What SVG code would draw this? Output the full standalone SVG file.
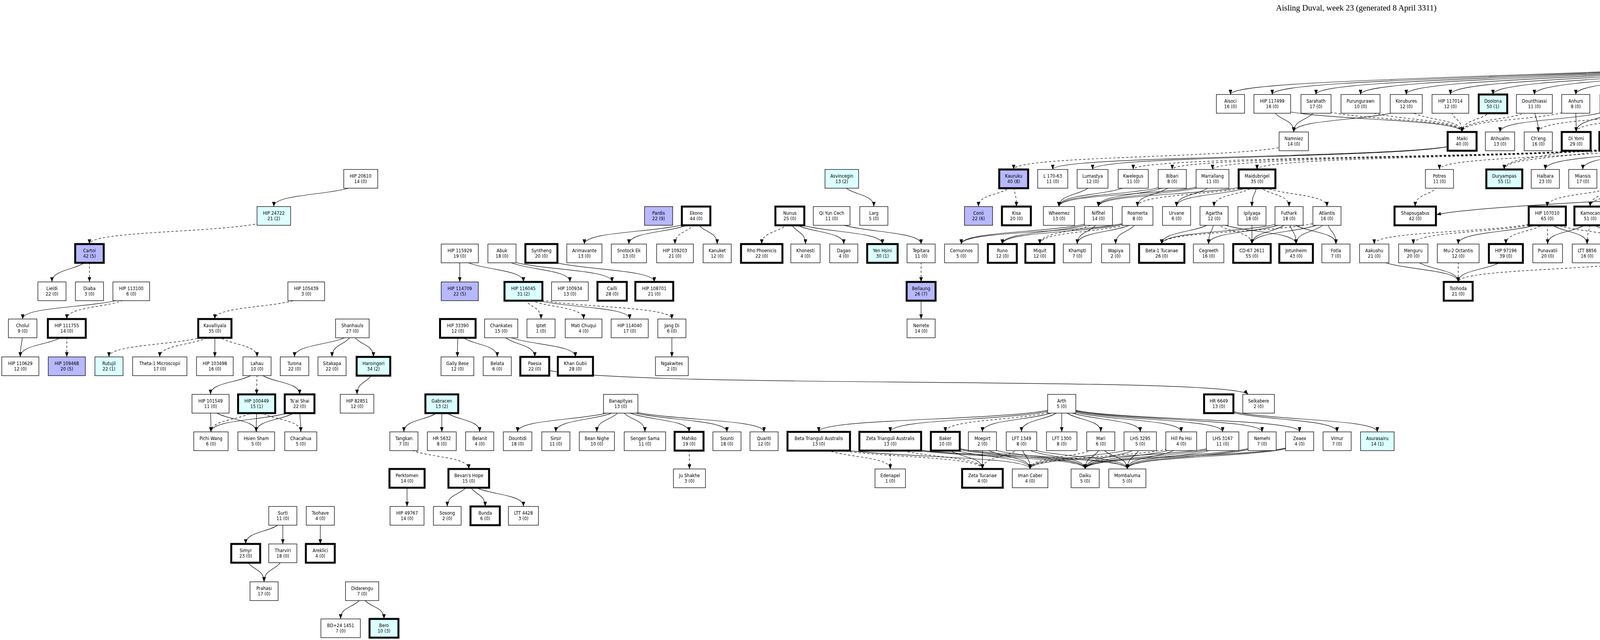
<svg xmlns="http://www.w3.org/2000/svg" width="6945" height="1639" viewBox="0 0 6945 1639">
<defs>
<marker id="a" markerUnits="userSpaceOnUse" markerWidth="13" markerHeight="10" refX="12" refY="4.5" orient="auto"><path d="M0,0L12,4.5L0,9z" fill="#000"/></marker>
<style>
.nd rect{fill:#fff;stroke:#000;stroke-width:1.3}
.nd.t rect{stroke-width:5}
.nd.c rect{fill:#dcffff}
.nd.b rect{fill:#b8b8ff}
.nd.p rect{fill:#ff99ee}
text{font-family:"DejaVu Sans Condensed","DejaVu Sans",sans-serif;font-size:12px;text-anchor:middle;fill:#000}
#edges path{fill:none;stroke:#000;stroke-width:1.2;marker-end:url(#a)}
#edges .d path{stroke-dasharray:6,5}
.key text{text-anchor:start}
</style>
</defs>
<rect width="6945" height="1639" fill="#fff"/>
<text x="3472" y="27" style="font-family:'Liberation Serif',serif;font-size:21px">Aisling Duval, week 23 (generated 8 April 3311)</text>
<g id="edges">
<g class="s">
<path d="M923,458C923,504 701,489 701,529"/>
<path d="M229,649C229,695 133,682 133,722"/>
<path d="M336,746C336,792 58,777 58,817"/>
<path d="M58,841C58,887 52,874 52,914"/>
<path d="M171,841C171,887 52,874 52,914"/>
<path d="M550,841C550,887 550,874 550,914"/>
<path d="M902,841C902,887 754,874 754,914"/>
<path d="M902,841C902,887 850,874 850,914"/>
<path d="M902,841C902,887 956,874 956,914"/>
<path d="M1172,841C1172,887 1171,874 1171,914"/>
<path d="M1172,841C1172,887 1273,874 1273,914"/>
<path d="M1283,841C1283,887 1369,874 1369,914"/>
<path d="M1283,841C1283,887 1473,874 1473,914"/>
<path d="M1720,841C1720,887 1720,874 1720,914"/>
<path d="M658,938C658,984 539,970 539,1010"/>
<path d="M658,938C658,984 767,970 767,1010"/>
<path d="M956,938C956,984 914,970 914,1010"/>
<path d="M539,1034C539,1080 540,1066 540,1106"/>
<path d="M539,1034C539,1080 656,1066 656,1106"/>
<path d="M657,1034C657,1080 656,1066 656,1106"/>
<path d="M767,1034C767,1080 540,1066 540,1106"/>
<path d="M767,1034C767,1080 656,1066 656,1106"/>
<path d="M767,1034C767,1080 770,1066 770,1106"/>
<path d="M1131,1034C1131,1080 1034,1066 1034,1106"/>
<path d="M1131,1034C1131,1080 1131,1066 1131,1106"/>
<path d="M1131,1034C1131,1080 1228,1066 1228,1106"/>
<path d="M1042,1225C1042,1271 1042,1257 1042,1297"/>
<path d="M1200,1225C1200,1271 1145,1257 1145,1297"/>
<path d="M1200,1225C1200,1271 1242,1257 1242,1297"/>
<path d="M1200,1225C1200,1271 1340,1257 1340,1297"/>
<path d="M724,1321C724,1367 629,1353 629,1393"/>
<path d="M724,1321C724,1367 724,1353 724,1393"/>
<path d="M820,1321C820,1367 820,1353 820,1393"/>
<path d="M629,1417C629,1463 676,1450 676,1490"/>
<path d="M724,1417C724,1463 676,1450 676,1490"/>
<path d="M927,1514C927,1560 872,1545 872,1585"/>
<path d="M927,1514C927,1560 983,1545 983,1585"/>
<path d="M1369,938C1450,1000 3150,960 3195,1010"/>
<path d="M1177,649C1177,695 1177,682 1177,722"/>
<path d="M1177,649C1177,695 1340,682 1340,722"/>
<path d="M1285,649C1285,695 1459,682 1459,722"/>
<path d="M1285,649C1285,695 1567,682 1567,722"/>
<path d="M1386,649C1386,695 1675,682 1675,722"/>
<path d="M1340,746C1340,792 1612,777 1612,817"/>
<path d="M1782,553C1782,599 1496,585 1496,625"/>
<path d="M1782,553C1782,599 1610,585 1610,625"/>
<path d="M1782,553C1782,599 1836,585 1836,625"/>
<path d="M2022,553C2022,599 2062,585 2062,625"/>
<path d="M2022,553C2022,599 2160,585 2160,625"/>
<path d="M2022,553C2022,599 2259,585 2259,625"/>
<path d="M2129,553C2129,599 2358,585 2358,625"/>
<path d="M2155,458C2155,504 2237,489 2237,529"/>
<path d="M1589,1034C1589,1080 1325,1066 1325,1106"/>
<path d="M1589,1034C1589,1080 1423,1066 1423,1106"/>
<path d="M1589,1034C1589,1080 1528,1066 1528,1106"/>
<path d="M1589,1034C1589,1080 1651,1066 1651,1106"/>
<path d="M1589,1034C1589,1080 1764,1066 1764,1106"/>
<path d="M1589,1034C1589,1080 1861,1066 1861,1106"/>
<path d="M1589,1034C1589,1080 1956,1066 1956,1106"/>
<path d="M2096,1130C2096,1176 2637,1161 2637,1201"/>
<path d="M2279,1130C2279,1176 2778,1161 2778,1201"/>
<path d="M2279,1130C2279,1176 2886,1161 2886,1201"/>
<path d="M2718,1034C2718,1080 2096,1066 2096,1106"/>
<path d="M2718,1034C2718,1080 2279,1066 2279,1106"/>
<path d="M2718,1034C2718,1080 2515,1066 2515,1106"/>
<path d="M2718,1034C2718,1080 2615,1066 2615,1106"/>
<path d="M2718,1034C2718,1080 2718,1066 2718,1106"/>
<path d="M2718,1034C2718,1080 2818,1066 2818,1106"/>
<path d="M2718,1034C2718,1080 2919,1066 2919,1106"/>
<path d="M2718,1034C2718,1080 3024,1066 3024,1106"/>
<path d="M2718,1034C2718,1080 3130,1066 3130,1106"/>
<path d="M2718,1034C2718,1080 3231,1066 3231,1106"/>
<path d="M2718,1034C2718,1080 3327,1066 3327,1106"/>
<path d="M3120,1034C3120,1080 3423,1066 3423,1106"/>
<path d="M3120,1034C3120,1080 3526,1066 3526,1106"/>
<path d="M2420,1130C2420,1176 2515,1161 2515,1201"/>
<path d="M2420,1130C2420,1176 2637,1161 2637,1201"/>
<path d="M2420,1130C2420,1176 2778,1161 2778,1201"/>
<path d="M2420,1130C2420,1176 2886,1161 2886,1201"/>
<path d="M2515,1130C2515,1176 2515,1161 2515,1201"/>
<path d="M2515,1130C2515,1176 2637,1161 2637,1201"/>
<path d="M2515,1130C2515,1176 2778,1161 2778,1201"/>
<path d="M2615,1130C2615,1176 2637,1161 2637,1201"/>
<path d="M2615,1130C2615,1176 2778,1161 2778,1201"/>
<path d="M2615,1130C2615,1176 2886,1161 2886,1201"/>
<path d="M2818,1130C2818,1176 2778,1161 2778,1201"/>
<path d="M2818,1130C2818,1176 2886,1161 2886,1201"/>
<path d="M2919,1130C2919,1176 2637,1161 2637,1201"/>
<path d="M2919,1130C2919,1176 2778,1161 2778,1201"/>
<path d="M2919,1130C2919,1176 2886,1161 2886,1201"/>
<path d="M3024,1130C3024,1176 2778,1161 2778,1201"/>
<path d="M3024,1130C3024,1176 2886,1161 2886,1201"/>
<path d="M3130,1130C3130,1176 2637,1161 2637,1201"/>
<path d="M3130,1130C3130,1176 2778,1161 2778,1201"/>
<path d="M3130,1130C3130,1176 2886,1161 2886,1201"/>
<path d="M3231,1130C3231,1176 2778,1161 2778,1201"/>
<path d="M3231,1130C3231,1176 2886,1161 2886,1201"/>
<path d="M3327,1130C3327,1176 2778,1161 2778,1201"/>
<path d="M3327,1130C3327,1176 2886,1161 2886,1201"/>
<path d="M2358,746C2358,792 2358,777 2358,817"/>
<path d="M3257,266C3257,312 3312,298 3312,338"/>
<path d="M3369,266C3369,312 3312,298 3312,338"/>
<path d="M3600,266C3600,312 3312,298 3312,338"/>
<path d="M3743,362C3743,408 2695,394 2695,434"/>
<path d="M3743,362C3743,408 2797,394 2797,434"/>
<path d="M2797,458C2797,504 2711,489 2711,529"/>
<path d="M2901,458C2901,504 2711,489 2711,529"/>
<path d="M3001,458C3001,504 2711,489 2711,529"/>
<path d="M3001,458C3001,504 2812,489 2812,529"/>
<path d="M3001,458C3001,504 2912,489 2912,529"/>
<path d="M3104,458C3104,504 2711,489 2711,529"/>
<path d="M3104,458C3104,504 2812,489 2812,529"/>
<path d="M3104,458C3104,504 3012,489 3012,529"/>
<path d="M3218,458C3218,504 2812,489 2812,529"/>
<path d="M3218,458C3218,504 3012,489 3012,529"/>
<path d="M3218,458C3218,504 3205,489 3205,529"/>
<path d="M2812,553C2812,599 2461,585 2461,625"/>
<path d="M2812,553C2812,599 2566,585 2566,625"/>
<path d="M2812,553C2812,599 2758,585 2758,625"/>
<path d="M2912,553C2912,599 2461,585 2461,625"/>
<path d="M2912,553C2912,599 2566,585 2566,625"/>
<path d="M2912,553C2912,599 2758,585 2758,625"/>
<path d="M2912,553C2912,599 2856,585 2856,625"/>
<path d="M3108,553C3108,599 2974,585 2974,625"/>
<path d="M3108,553C3108,599 3094,585 3094,625"/>
<path d="M3108,553C3108,599 3318,585 3318,625"/>
<path d="M3205,553C3205,599 3205,585 3205,625"/>
<path d="M3300,553C3300,599 2974,585 2974,625"/>
<path d="M3300,553C3300,599 3094,585 3094,625"/>
<path d="M3300,553C3300,599 3205,585 3205,625"/>
<path d="M3300,553C3300,599 3318,585 3318,625"/>
<path d="M3300,553C3300,599 3420,585 3420,625"/>
<path d="M3397,553C3397,599 3205,585 3205,625"/>
<path d="M3397,553C3397,599 3318,585 3318,625"/>
<path d="M3397,553C3397,599 3420,585 3420,625"/>
<path d="M3257,266C3257,312 3743,298 3743,338"/>
<path d="M3928,266C3928,312 3938,298 3938,338"/>
<path d="M4034,266C4034,312 4035,298 4035,338"/>
<path d="M4135,266C4135,312 3840,298 3840,338"/>
<path d="M4135,266C4135,312 4035,298 4035,338"/>
<path d="M4237,362C4237,408 3956,394 3956,434"/>
<path d="M4237,362C4237,408 4052,394 4052,434"/>
<path d="M4237,362C4237,408 4372,394 4372,434"/>
<path d="M4878,458C4600,500 3800,520 3677,550"/>
<path d="M4148,458C4148,504 4171,489 4171,529"/>
<path d="M4260,458C4260,504 4171,489 4171,529"/>
<path d="M4260,458C4260,504 4268,489 4268,529"/>
<path d="M3961,553C3961,599 3733,585 3733,625"/>
<path d="M3961,553C3961,599 4063,585 4063,625"/>
<path d="M4071,553C4071,599 3962,585 3962,625"/>
<path d="M4071,553C4071,599 4162,585 4162,625"/>
<path d="M4071,553C4071,599 4356,585 4356,625"/>
<path d="M4366,553C4366,599 4665,585 4665,625"/>
<path d="M4462,553C4462,599 4665,585 4665,625"/>
<path d="M3518,649C3518,695 3733,682 3733,722"/>
<path d="M3618,649C3618,695 3733,682 3733,722"/>
<path d="M3855,649C3855,695 3733,682 3733,722"/>
<path d="M4840,150C3995,200 3150,200 3150,242"/>
<path d="M4840,150C4049,200 3257,200 3257,242"/>
<path d="M4840,150C4105,200 3369,200 3369,242"/>
<path d="M4840,150C4162,200 3483,200 3483,242"/>
<path d="M4840,150C4220,200 3600,200 3600,242"/>
<path d="M4840,150C4277,200 3713,200 3713,242"/>
<path d="M4840,150C4331,200 3822,200 3822,242"/>
<path d="M4840,150C4384,200 3928,200 3928,242"/>
<path d="M4840,150C4437,200 4034,200 4034,242"/>
<path d="M4840,150C4488,200 4135,200 4135,242"/>
<path d="M4840,150C4554,200 4267,200 4267,242"/>
<path d="M4840,150C4619,200 4397,200 4397,242"/>
<path d="M4840,150C4666,200 4492,200 4492,242"/>
<path d="M4840,150C4715,200 4590,200 4590,242"/>
<path d="M4840,150C4767,200 4693,200 4693,242"/>
<path d="M4840,150C4816,200 4792,200 4792,242"/>
<path d="M4840,150C4864,200 4888,200 4888,242"/>
<path d="M4840,150C4914,200 4988,200 4988,242"/>
<path d="M4840,150C4965,200 5090,200 5090,242"/>
<path d="M4840,150C5017,200 5193,200 5193,242"/>
<path d="M4840,150C5068,200 5296,200 5296,242"/>
<path d="M4840,150C5122,200 5404,200 5404,242"/>
<path d="M4840,150C5191,200 5541,200 5541,242"/>
<path d="M4840,150C5255,200 5670,200 5670,242"/>
<path d="M4840,150C5305,200 5770,200 5770,242"/>
<path d="M4840,150C5358,200 5875,200 5875,242"/>
<path d="M4840,150C5409,200 5977,200 5977,242"/>
<path d="M4840,150C5459,200 6078,200 6078,242"/>
<path d="M4840,150C5509,200 6178,200 6178,242"/>
<path d="M4840,150C5557,200 6273,200 6273,242"/>
<path d="M4840,150C5605,200 6370,200 6370,242"/>
<path d="M4840,150C5653,200 6466,200 6466,242"/>
<path d="M4840,150C5703,200 6566,200 6566,242"/>
<path d="M4840,150C5763,200 6685,200 6685,242"/>
<path d="M4840,150C5822,200 6803,200 6803,242"/>
<path d="M4840,150C5872,200 6903,200 6903,242"/>
<path d="M4792,266C4792,312 5519,298 5519,338"/>
<path d="M4888,266C4888,312 5423,298 5423,338"/>
<path d="M5090,266C5090,312 5423,298 5423,338"/>
<path d="M5193,266C5193,312 5519,298 5519,338"/>
<path d="M5296,266C5296,312 5327,298 5327,338"/>
<path d="M5296,266C5296,312 5519,298 5519,338"/>
<path d="M5670,266C5670,312 5727,298 5727,338"/>
<path d="M5770,266C5770,312 5727,298 5727,338"/>
<path d="M5770,266C5770,312 5423,298 5423,338"/>
<path d="M5875,266C5875,312 5837,298 5837,338"/>
<path d="M6178,266C6178,312 6046,298 6046,338"/>
<path d="M6273,266C6273,312 6147,298 6147,338"/>
<path d="M5220,362C5220,408 5307,394 5307,434"/>
<path d="M5220,362C5220,408 5420,394 5420,434"/>
<path d="M5220,362C5220,408 5525,394 5525,434"/>
<path d="M5220,362C5220,408 5623,394 5623,434"/>
<path d="M5519,362C5519,408 5623,394 5623,434"/>
<path d="M5727,362C5727,408 5815,394 5815,434"/>
<path d="M5837,362C5837,408 5917,394 5917,434"/>
<path d="M5837,362C5837,408 6223,394 6223,434"/>
<path d="M5837,362C5837,408 6327,394 6327,434"/>
<path d="M5943,362C5943,408 6428,394 6428,434"/>
<path d="M5943,362C5943,408 6530,394 6530,434"/>
<path d="M6046,362C6046,408 6116,394 6116,434"/>
<path d="M4878,458C4878,504 4982,489 4982,529"/>
<path d="M4991,458C4991,504 4982,489 4982,529"/>
<path d="M5103,458C5103,504 5079,489 5079,529"/>
<path d="M5103,458C5103,504 5609,489 5609,529"/>
<path d="M5199,458C5199,504 5079,489 5079,529"/>
<path d="M5199,458C5199,504 5301,489 5301,529"/>
<path d="M5199,458C5199,504 4877,489 4877,529"/>
<path d="M5420,458C5420,504 5609,489 5609,529"/>
<path d="M5623,458C5623,504 5609,489 5609,529"/>
<path d="M5815,458C5815,504 5824,489 5824,529"/>
<path d="M6017,458C6017,504 6441,489 6441,529"/>
<path d="M6116,458C6116,504 6537,489 6537,529"/>
<path d="M4677,553C4677,599 4665,585 4665,625"/>
<path d="M4774,553C4774,599 4773,585 4773,625"/>
<path d="M4774,553C4774,599 4869,585 4869,625"/>
<path d="M4774,553C4774,599 4980,585 4980,625"/>
<path d="M4877,553C4877,599 4980,585 4980,625"/>
<path d="M4877,553C4877,599 5091,585 5091,625"/>
<path d="M5079,553C5079,599 4980,585 4980,625"/>
<path d="M5079,553C5079,599 5091,585 5091,625"/>
<path d="M5191,553C5191,599 5091,585 5091,625"/>
<path d="M5301,553C5301,599 5355,585 5355,625"/>
<path d="M5301,553C5301,599 5188,585 5188,625"/>
<path d="M5510,553C5510,599 5355,585 5355,625"/>
<path d="M5510,553C5510,599 5511,585 5511,625"/>
<path d="M5824,553C5824,599 5511,585 5511,625"/>
<path d="M5932,553C5932,599 5511,585 5511,625"/>
<path d="M5511,649C5511,695 5407,682 5407,722"/>
<path d="M5917,649C5917,695 5814,682 5814,722"/>
<path d="M5917,649C5917,695 5911,682 5911,722"/>
<path d="M6013,649C6013,695 5911,682 5911,722"/>
<path d="M6013,649C6013,695 6016,682 6016,722"/>
<path d="M6013,649C6013,695 6229,682 6229,722"/>
<path d="M6013,649C6013,695 6332,682 6332,722"/>
<path d="M6013,649C6013,695 6436,682 6436,722"/>
<path d="M6235,649C6235,695 6016,682 6016,722"/>
<path d="M6235,649C6235,695 6126,682 6126,722"/>
<path d="M6235,649C6235,695 6229,682 6229,722"/>
<path d="M6235,649C6235,695 6332,682 6332,722"/>
<path d="M6235,649C6235,695 6436,682 6436,722"/>
<path d="M6343,649C6343,695 5911,682 5911,722"/>
<path d="M6343,649C6343,695 6229,682 6229,722"/>
<path d="M6343,649C6343,695 6332,682 6332,722"/>
<path d="M6343,649C6343,695 6436,682 6436,722"/>
<path d="M6126,746C6126,792 6126,777 6126,817"/>
<path d="M6436,746C6436,792 6436,777 6436,817"/>
<path d="M6126,841C6126,887 6126,874 6126,914"/>
<path d="M6436,841C6436,887 6334,874 6334,914"/>
<path d="M6436,841C6436,887 6436,874 6436,914"/>
<path d="M6436,1034C6436,1080 6436,1066 6436,1106"/>
<path d="M6532,1034C6532,1080 6436,1066 6436,1106"/>
<path d="M6532,1034C6532,1080 6537,1066 6537,1106"/>
<path d="M6436,1130C6436,1176 6436,1161 6436,1201"/>
</g>
<g class="d">
<path d="M701,553C701,599 229,585 229,625"/>
<path d="M229,649C229,695 229,682 229,722"/>
<path d="M336,746C336,792 171,777 171,817"/>
<path d="M784,746C784,792 550,777 550,817"/>
<path d="M171,841C171,887 171,874 171,914"/>
<path d="M550,841C550,887 279,874 279,914"/>
<path d="M550,841C550,887 409,874 409,914"/>
<path d="M550,841C550,887 658,874 658,914"/>
<path d="M658,938C658,984 657,970 657,1010"/>
<path d="M657,1034C657,1080 540,1066 540,1106"/>
<path d="M657,1034C657,1080 770,1066 770,1106"/>
<path d="M1034,1130C1034,1176 1200,1161 1200,1201"/>
<path d="M1340,746C1340,792 1385,777 1385,817"/>
<path d="M1340,746C1340,792 1494,777 1494,817"/>
<path d="M1340,746C1340,792 1720,777 1720,817"/>
<path d="M1782,553C1782,599 1728,585 1728,625"/>
<path d="M2022,553C2022,599 1950,585 1950,625"/>
<path d="M1764,1130C1764,1176 1765,1161 1765,1201"/>
<path d="M2096,1130C2096,1176 2279,1161 2279,1201"/>
<path d="M2096,1130C2096,1176 2515,1161 2515,1201"/>
<path d="M2279,1130C2279,1176 2279,1161 2279,1201"/>
<path d="M2279,1130C2279,1176 2515,1161 2515,1201"/>
<path d="M2615,1130C2615,1176 2515,1161 2515,1201"/>
<path d="M2818,1130C2818,1176 2637,1161 2637,1201"/>
<path d="M3024,1130C3024,1176 2637,1161 2637,1201"/>
<path d="M2718,1034C2718,1080 2420,1066 2420,1106"/>
<path d="M2358,649C2358,695 2358,682 2358,722"/>
<path d="M2595,458C2595,504 2505,489 2505,529"/>
<path d="M2595,458C2595,504 2602,489 2602,529"/>
<path d="M3312,362C3312,408 2595,394 2595,434"/>
<path d="M4237,362C4237,408 2901,394 2901,434"/>
<path d="M4237,362C4237,408 3001,394 3001,434"/>
<path d="M4237,362C4237,408 3104,394 3104,434"/>
<path d="M4237,362C4237,408 3218,394 3218,434"/>
<path d="M3218,458C3218,504 2912,489 2912,529"/>
<path d="M3218,458C3218,504 3108,489 3108,529"/>
<path d="M3218,458C3218,504 3300,489 3300,529"/>
<path d="M3218,458C3218,504 3397,489 3397,529"/>
<path d="M2812,553C2812,599 2662,585 2662,625"/>
<path d="M2912,553C2912,599 2662,585 2662,625"/>
<path d="M3108,553C3108,599 3205,585 3205,625"/>
<path d="M3397,553C3397,599 2974,585 2974,625"/>
<path d="M3483,266C3483,312 3743,298 3743,338"/>
<path d="M3600,266C3600,312 3743,298 3743,338"/>
<path d="M3713,266C3713,312 3743,298 3743,338"/>
<path d="M3822,266C3822,312 3743,298 3743,338"/>
<path d="M3928,266C3928,312 3743,298 3743,338"/>
<path d="M4034,266C4034,312 3743,298 3743,338"/>
<path d="M4135,266C4135,312 4133,298 4133,338"/>
<path d="M4397,266C4397,312 4133,298 4133,338"/>
<path d="M4397,266C4397,312 4035,298 4035,338"/>
<path d="M4267,266C4267,312 3938,298 3938,338"/>
<path d="M4492,266C4492,312 4237,298 4237,338"/>
<path d="M4590,266C4590,312 4237,298 4237,338"/>
<path d="M3369,266C3369,312 3743,298 3743,338"/>
<path d="M5220,362C4900,420 4400,400 4282,362"/>
<path d="M4237,362C4237,408 3685,394 3685,434"/>
<path d="M4237,362C4237,408 4148,394 4148,434"/>
<path d="M4237,362C4237,408 4260,394 4260,434"/>
<path d="M4133,362C4133,408 3851,394 3851,434"/>
<path d="M4035,362C4035,408 3851,394 3851,434"/>
<path d="M3685,458C3685,504 3623,489 3623,529"/>
<path d="M4148,458C4148,504 3961,489 3961,529"/>
<path d="M4148,458C4148,504 4071,489 4071,529"/>
<path d="M4148,458C4148,504 4462,489 4462,529"/>
<path d="M4260,458C4260,504 4071,489 4071,529"/>
<path d="M4372,458C4372,504 4366,489 4366,529"/>
<path d="M3961,553C3961,599 3518,585 3518,625"/>
<path d="M3961,553C3961,599 3618,585 3618,625"/>
<path d="M3961,553C3961,599 3855,585 3855,625"/>
<path d="M3961,553C3961,599 3962,585 3962,625"/>
<path d="M3961,553C3961,599 4162,585 4162,625"/>
<path d="M4071,553C4071,599 4063,585 4063,625"/>
<path d="M4071,553C4071,599 4258,585 4258,625"/>
<path d="M4366,553C4366,599 4356,585 4356,625"/>
<path d="M4366,553C4366,599 4457,585 4457,625"/>
<path d="M4366,553C4366,599 4556,585 4556,625"/>
<path d="M4462,553C4462,599 4457,585 4457,625"/>
<path d="M3733,649C3733,695 3733,682 3733,722"/>
<path d="M4258,649C4258,695 3733,682 3733,722"/>
<path d="M4693,266C4693,312 5220,298 5220,338"/>
<path d="M4988,266C4988,312 5220,298 5220,338"/>
<path d="M5404,266C5404,312 5519,298 5519,338"/>
<path d="M5541,266C5541,312 5423,298 5423,338"/>
<path d="M5541,266C5541,312 5619,298 5619,338"/>
<path d="M5670,266C5670,312 5619,298 5619,338"/>
<path d="M5770,266C5770,312 5837,298 5837,338"/>
<path d="M5875,266C5875,312 5943,298 5943,338"/>
<path d="M5875,266C5875,312 6046,298 6046,338"/>
<path d="M5977,266C5977,312 6046,298 6046,338"/>
<path d="M5977,266C5977,312 6147,298 6147,338"/>
<path d="M6078,266C6078,312 6046,298 6046,338"/>
<path d="M6078,266C6078,312 6147,298 6147,338"/>
<path d="M6178,266C6178,312 6273,298 6273,338"/>
<path d="M6273,266C6273,312 6273,298 6273,338"/>
<path d="M6370,266C6370,312 6273,298 6273,338"/>
<path d="M6466,266C6466,312 6273,298 6273,338"/>
<path d="M5220,362C5220,408 4878,394 4878,434"/>
<path d="M5220,362C5220,408 4991,394 4991,434"/>
<path d="M5220,362C5220,408 5103,394 5103,434"/>
<path d="M5220,362C5220,408 5199,394 5199,434"/>
<path d="M5423,362C5423,408 5525,394 5525,434"/>
<path d="M5519,362C5519,408 5719,394 5719,434"/>
<path d="M5619,362C5619,408 5525,394 5525,434"/>
<path d="M5727,362C5727,408 5719,394 5719,434"/>
<path d="M6046,362C6046,408 6017,394 6017,434"/>
<path d="M5103,458C5103,504 4677,489 4677,529"/>
<path d="M5103,458C5103,504 4774,489 4774,529"/>
<path d="M5199,458C5199,504 5191,489 5191,529"/>
<path d="M5199,458C5199,504 4982,489 4982,529"/>
<path d="M5307,458C5307,504 5407,489 5407,529"/>
<path d="M5525,458C5525,504 5510,489 5510,529"/>
<path d="M5525,458C5525,504 5609,489 5609,529"/>
<path d="M5623,458C5623,504 5715,489 5715,529"/>
<path d="M5719,458C5719,504 5715,489 5715,529"/>
<path d="M5719,458C5719,504 5824,489 5824,529"/>
<path d="M5815,458C5815,504 5932,489 5932,529"/>
<path d="M5815,458C5815,504 6640,489 6640,529"/>
<path d="M5917,458C5917,504 5932,489 5932,529"/>
<path d="M5917,458C5917,504 6036,489 6036,529"/>
<path d="M5917,458C5917,504 6342,489 6342,529"/>
<path d="M6017,458C6017,504 6131,489 6131,529"/>
<path d="M6017,458C6017,504 6235,489 6235,529"/>
<path d="M6116,458C6116,504 6235,489 6235,529"/>
<path d="M4982,553C4982,599 5091,585 5091,625"/>
<path d="M4982,553C4982,599 5355,585 5355,625"/>
<path d="M5079,553C5079,599 5355,585 5355,625"/>
<path d="M5191,553C5191,599 5188,585 5188,625"/>
<path d="M5191,553C5191,599 5511,585 5511,625"/>
<path d="M5407,553C5407,599 5355,585 5355,625"/>
<path d="M5609,553C5609,599 5511,585 5511,625"/>
<path d="M5609,553C5609,599 5355,585 5355,625"/>
<path d="M6235,553C6235,599 5917,585 5917,625"/>
<path d="M6235,553C6235,599 6013,585 6013,625"/>
<path d="M6235,553C6235,599 6118,585 6118,625"/>
<path d="M6235,553C6235,599 6235,585 6235,625"/>
<path d="M6235,553C6235,599 6343,585 6343,625"/>
<path d="M6640,553C6640,599 6013,585 6013,625"/>
<path d="M5355,649C5355,695 5407,682 5407,722"/>
<path d="M5511,649C5511,695 5665,682 5665,722"/>
<path d="M5511,649C5511,695 5814,682 5814,722"/>
<path d="M5917,649C5917,695 6016,682 6016,722"/>
<path d="M5917,649C5917,695 5665,682 5665,722"/>
<path d="M6013,649C6013,695 6126,682 6126,722"/>
<path d="M5665,746C5665,792 5665,777 5665,817"/>
<path d="M5665,841C5665,887 5665,874 5665,914"/>
<path d="M6436,841C6436,887 6539,874 6539,914"/>
<path d="M6334,938C6334,984 6334,970 6334,1010"/>
<path d="M6436,938C6436,984 6436,970 6436,1010"/>
<path d="M6539,938C6539,984 6436,970 6436,1010"/>
<path d="M6539,938C6539,984 6532,970 6532,1010"/>
<path d="M6539,938C6539,984 6629,970 6629,1010"/>
<path d="M6539,938C6539,984 6724,970 6724,1010"/>
</g>
</g>
<g id="hq">
<polygon points="4840,29 4863.5,92.6 4931.3,95.3 4878,137.4 4896.4,202.7 4840,165 4783.6,202.7 4802,137.4 4748.7,95.3 4816.5,92.6" fill="#fff" stroke="#000" stroke-width="5" stroke-linejoin="miter"/>
<text x="4840" y="110">Cubeo<tspan x="4840" dy="14">43 (0)</tspan></text>
</g>
<g id="key" class="key">
<rect x="4948" y="50" width="521" height="130" fill="#d3d3d3" stroke="#000" stroke-width="1.3"/>
<text x="5208" y="64" style="text-anchor:middle">KEY</text>
<text x="4959" y="77">Star: HQ</text>
<text x="4959" y="90">Thick edge rectangle: Stronghold</text>
<text x="4959" y="104">Normal edge rectangle: Fortified</text>
<text x="4959" y="117">Below system name: supported exploited count (sole supporter count)</text>
<text x="4959" y="131">Only shortest connected routes back to HQ shown</text>
<text x="4959" y="144">Exclaves shown at approximate distance</text>
<text x="4959" y="157">Dashed lines indicate links requiring current Stronghold status</text>
<text x="4959" y="170">White-&gt;Cyan-&gt;Blue-&gt;Pink-&gt;Red colour indicates sole-supported exploited systems</text>
</g>
<g id="nodes">
<g id="n1" class="nd"><rect x="880" y="434" width="87" height="48"/><text x="923" y="455">HIP 20610<tspan x="923" dy="14">14 (0)</tspan></text></g>
<g id="n2" class="nd c"><rect x="658" y="529" width="86" height="48"/><text x="701" y="550">HIP 24722<tspan x="701" dy="14">21 (2)</tspan></text></g>
<g id="n3" class="nd b t"><rect x="192.5" y="625" width="73" height="48"/><text x="229" y="646">Cartoi<tspan x="229" dy="14">42 (5)</tspan></text></g>
<g id="n4" class="nd"><rect x="97" y="722" width="72" height="48"/><text x="133" y="743">Lieldi<tspan x="133" dy="14">22 (0)</tspan></text></g>
<g id="n5" class="nd"><rect x="193" y="722" width="72" height="48"/><text x="229" y="743">Diaba<tspan x="229" dy="14">3 (0)</tspan></text></g>
<g id="n6" class="nd"><rect x="289" y="722" width="94" height="48"/><text x="336" y="743">HIP 113100<tspan x="336" dy="14">6 (0)</tspan></text></g>
<g id="n7" class="nd"><rect x="737" y="722" width="94" height="48"/><text x="784" y="743">HIP 105439<tspan x="784" dy="14">3 (0)</tspan></text></g>
<g id="n8" class="nd"><rect x="1129.5" y="625" width="95" height="48"/><text x="1177" y="646">HIP 115929<tspan x="1177" dy="14">19 (0)</tspan></text></g>
<g id="n9" class="nd b"><rect x="1129.5" y="722" width="95" height="48"/><text x="1177" y="743">HIP 114709<tspan x="1177" dy="14">22 (5)</tspan></text></g>
<g id="n10" class="nd"><rect x="21.5" y="817" width="73" height="48"/><text x="58" y="838">Cholul<tspan x="58" dy="14">9 (0)</tspan></text></g>
<g id="n11" class="nd t"><rect x="122.5" y="817" width="97" height="48"/><text x="171" y="838">HIP 111755<tspan x="171" dy="14">14 (0)</tspan></text></g>
<g id="n12" class="nd t"><rect x="507.5" y="817" width="85" height="48"/><text x="550" y="838">Kavalliyala<tspan x="550" dy="14">35 (0)</tspan></text></g>
<g id="n13" class="nd"><rect x="859" y="817" width="86" height="48"/><text x="902" y="838">Shanhauls<tspan x="902" dy="14">27 (0)</tspan></text></g>
<g id="n14" class="nd t"><rect x="1126.5" y="817" width="91" height="48"/><text x="1172" y="838">HIP 33390<tspan x="1172" dy="14">12 (0)</tspan></text></g>
<g id="n15" class="nd"><rect x="1240.5" y="817" width="85" height="48"/><text x="1283" y="838">Chankates<tspan x="1283" dy="14">15 (0)</tspan></text></g>
<g id="n16" class="nd"><rect x="1349" y="817" width="72" height="48"/><text x="1385" y="838">Iptet<tspan x="1385" dy="14">1 (0)</tspan></text></g>
<g id="n17" class="nd"><rect x="1447" y="817" width="94" height="48"/><text x="1494" y="838">Mati Chuqui<tspan x="1494" dy="14">4 (0)</tspan></text></g>
<g id="n18" class="nd"><rect x="1564.5" y="817" width="95" height="48"/><text x="1612" y="838">HIP 114040<tspan x="1612" dy="14">17 (0)</tspan></text></g>
<g id="n19" class="nd"><rect x="1684" y="817" width="72" height="48"/><text x="1720" y="838">Jang Di<tspan x="1720" dy="14">6 (0)</tspan></text></g>
<g id="n20" class="nd"><rect x="4.5" y="914" width="95" height="48"/><text x="52" y="935">HIP 110629<tspan x="52" dy="14">12 (0)</tspan></text></g>
<g id="n21" class="nd b"><rect x="123.5" y="914" width="95" height="48"/><text x="171" y="935">HIP 109468<tspan x="171" dy="14">20 (5)</tspan></text></g>
<g id="n22" class="nd c"><rect x="243" y="914" width="72" height="48"/><text x="279" y="935">Rutujil<tspan x="279" dy="14">22 (1)</tspan></text></g>
<g id="n23" class="nd"><rect x="339.5" y="914" width="139" height="48"/><text x="409" y="935">Theta-1 Microscopii<tspan x="409" dy="14">17 (0)</tspan></text></g>
<g id="n24" class="nd"><rect x="503" y="914" width="94" height="48"/><text x="550" y="935">HIP 103498<tspan x="550" dy="14">16 (0)</tspan></text></g>
<g id="n25" class="nd"><rect x="622" y="914" width="72" height="48"/><text x="658" y="935">Lahau<tspan x="658" dy="14">10 (0)</tspan></text></g>
<g id="n26" class="nd"><rect x="717.5" y="914" width="73" height="48"/><text x="754" y="935">Turona<tspan x="754" dy="14">22 (0)</tspan></text></g>
<g id="n27" class="nd"><rect x="814" y="914" width="72" height="48"/><text x="850" y="935">Sitakapa<tspan x="850" dy="14">22 (0)</tspan></text></g>
<g id="n28" class="nd c t"><rect x="913" y="914" width="86" height="48"/><text x="956" y="935">Haroingori<tspan x="956" dy="14">34 (2)</tspan></text></g>
<g id="n29" class="nd"><rect x="1129" y="914" width="84" height="48"/><text x="1171" y="935">Gally Bese<tspan x="1171" dy="14">12 (0)</tspan></text></g>
<g id="n30" class="nd"><rect x="1237" y="914" width="72" height="48"/><text x="1273" y="935">Belata<tspan x="1273" dy="14">6 (0)</tspan></text></g>
<g id="n31" class="nd t"><rect x="1332" y="914" width="74" height="48"/><text x="1369" y="935">Paesia<tspan x="1369" dy="14">22 (0)</tspan></text></g>
<g id="n32" class="nd t"><rect x="1428" y="914" width="90" height="48"/><text x="1473" y="935">Khan Gubii<tspan x="1473" dy="14">28 (0)</tspan></text></g>
<g id="n33" class="nd"><rect x="1678" y="914" width="84" height="48"/><text x="1720" y="935">Ngakwites<tspan x="1720" dy="14">2 (0)</tspan></text></g>
<g id="n34" class="nd"><rect x="491.5" y="1010" width="95" height="48"/><text x="539" y="1031">HIP 101549<tspan x="539" dy="14">11 (0)</tspan></text></g>
<g id="n35" class="nd c t"><rect x="609.5" y="1010" width="95" height="48"/><text x="657" y="1031">HIP 100449<tspan x="657" dy="14">15 (1)</tspan></text></g>
<g id="n36" class="nd t"><rect x="729" y="1010" width="76" height="48"/><text x="767" y="1031">Ts'ai Shai<tspan x="767" dy="14">22 (0)</tspan></text></g>
<g id="n37" class="nd"><rect x="871" y="1010" width="86" height="48"/><text x="914" y="1031">HIP 82851<tspan x="914" dy="14">12 (0)</tspan></text></g>
<g id="n38" class="nd c t"><rect x="1089" y="1010" width="84" height="48"/><text x="1131" y="1031">Gabracen<tspan x="1131" dy="14">13 (2)</tspan></text></g>
<g id="n39" class="nd"><rect x="1545" y="1010" width="88" height="48"/><text x="1589" y="1031">Banapityas<tspan x="1589" dy="14">13 (0)</tspan></text></g>
<g id="n40" class="nd"><rect x="2682" y="1010" width="72" height="48"/><text x="2718" y="1031">Arth<tspan x="2718" dy="14">5 (0)</tspan></text></g>
<g id="n41" class="nd t"><rect x="3082.5" y="1010" width="75" height="48"/><text x="3120" y="1031">HR 6649<tspan x="3120" dy="14">13 (0)</tspan></text></g>
<g id="n42" class="nd"><rect x="3181.5" y="1010" width="81" height="48"/><text x="3222" y="1031">Selkabere<tspan x="3222" dy="14">2 (0)</tspan></text></g>
<g id="n43" class="nd"><rect x="496" y="1106" width="88" height="48"/><text x="540" y="1127">Pichi Wang<tspan x="540" dy="14">6 (0)</tspan></text></g>
<g id="n44" class="nd"><rect x="609" y="1106" width="94" height="48"/><text x="656" y="1127">Hsien Sham<tspan x="656" dy="14">5 (0)</tspan></text></g>
<g id="n45" class="nd"><rect x="729" y="1106" width="82" height="48"/><text x="770" y="1127">Chacahua<tspan x="770" dy="14">5 (0)</tspan></text></g>
<g id="n46" class="nd"><rect x="998" y="1106" width="72" height="48"/><text x="1034" y="1127">Tangkan<tspan x="1034" dy="14">7 (0)</tspan></text></g>
<g id="n47" class="nd"><rect x="1094" y="1106" width="74" height="48"/><text x="1131" y="1127">HR 5632<tspan x="1131" dy="14">8 (0)</tspan></text></g>
<g id="n48" class="nd"><rect x="1192" y="1106" width="72" height="48"/><text x="1228" y="1127">Belanit<tspan x="1228" dy="14">4 (0)</tspan></text></g>
<g id="n49" class="nd"><rect x="1288.5" y="1106" width="73" height="48"/><text x="1325" y="1127">Dountidi<tspan x="1325" dy="14">18 (0)</tspan></text></g>
<g id="n50" class="nd"><rect x="1387" y="1106" width="72" height="48"/><text x="1423" y="1127">Sirsir<tspan x="1423" dy="14">11 (0)</tspan></text></g>
<g id="n51" class="nd"><rect x="1483" y="1106" width="90" height="48"/><text x="1528" y="1127">Bean Nighe<tspan x="1528" dy="14">10 (0)</tspan></text></g>
<g id="n52" class="nd"><rect x="1598" y="1106" width="106" height="48"/><text x="1651" y="1127">Sengen Sama<tspan x="1651" dy="14">11 (0)</tspan></text></g>
<g id="n53" class="nd t"><rect x="1727" y="1106" width="74" height="48"/><text x="1764" y="1127">Mahiko<tspan x="1764" dy="14">19 (0)</tspan></text></g>
<g id="n54" class="nd"><rect x="1825" y="1106" width="72" height="48"/><text x="1861" y="1127">Sounti<tspan x="1861" dy="14">18 (0)</tspan></text></g>
<g id="n55" class="nd"><rect x="1920" y="1106" width="72" height="48"/><text x="1956" y="1127">Quariti<tspan x="1956" dy="14">12 (0)</tspan></text></g>
<g id="n56" class="nd t"><rect x="2016" y="1106" width="160" height="48"/><text x="2096" y="1127">Beta Trianguli Australis<tspan x="2096" dy="14">13 (0)</tspan></text></g>
<g id="n57" class="nd t"><rect x="2200" y="1106" width="158" height="48"/><text x="2279" y="1127">Zeta Trianguli Australis<tspan x="2279" dy="14">13 (0)</tspan></text></g>
<g id="n58" class="nd t"><rect x="2383" y="1106" width="74" height="48"/><text x="2420" y="1127">Baker<tspan x="2420" dy="14">10 (0)</tspan></text></g>
<g id="n59" class="nd"><rect x="2479" y="1106" width="72" height="48"/><text x="2515" y="1127">Moepirt<tspan x="2515" dy="14">2 (0)</tspan></text></g>
<g id="n60" class="nd"><rect x="2576" y="1106" width="78" height="48"/><text x="2615" y="1127">LFT 1349<tspan x="2615" dy="14">8 (0)</tspan></text></g>
<g id="n61" class="nd"><rect x="2679" y="1106" width="78" height="48"/><text x="2718" y="1127">LFT 1300<tspan x="2718" dy="14">8 (0)</tspan></text></g>
<g id="n62" class="nd"><rect x="2782" y="1106" width="72" height="48"/><text x="2818" y="1127">Mari<tspan x="2818" dy="14">6 (0)</tspan></text></g>
<g id="n63" class="nd"><rect x="2877.5" y="1106" width="83" height="48"/><text x="2919" y="1127">LHS 3295<tspan x="2919" dy="14">5 (0)</tspan></text></g>
<g id="n64" class="nd"><rect x="2984.5" y="1106" width="79" height="48"/><text x="3024" y="1127">Hill Pa Hsi<tspan x="3024" dy="14">4 (0)</tspan></text></g>
<g id="n65" class="nd"><rect x="3088.5" y="1106" width="83" height="48"/><text x="3130" y="1127">LHS 3167<tspan x="3130" dy="14">11 (0)</tspan></text></g>
<g id="n66" class="nd"><rect x="3195" y="1106" width="72" height="48"/><text x="3231" y="1127">Nemehi<tspan x="3231" dy="14">7 (0)</tspan></text></g>
<g id="n67" class="nd"><rect x="3291" y="1106" width="72" height="48"/><text x="3327" y="1127">Zeaex<tspan x="3327" dy="14">4 (0)</tspan></text></g>
<g id="n68" class="nd"><rect x="3387" y="1106" width="72" height="48"/><text x="3423" y="1127">Vimur<tspan x="3423" dy="14">7 (0)</tspan></text></g>
<g id="n69" class="nd c"><rect x="3483" y="1106" width="86" height="48"/><text x="3526" y="1127">Asurasairu<tspan x="3526" dy="14">14 (1)</tspan></text></g>
<g id="n70" class="nd t"><rect x="997" y="1201" width="90" height="48"/><text x="1042" y="1222">Perktomen<tspan x="1042" dy="14">14 (0)</tspan></text></g>
<g id="n71" class="nd t"><rect x="1148" y="1201" width="104" height="48"/><text x="1200" y="1222">Bevan's Hope<tspan x="1200" dy="14">15 (0)</tspan></text></g>
<g id="n72" class="nd"><rect x="1724" y="1201" width="82" height="48"/><text x="1765" y="1222">Ju Shakhe<tspan x="1765" dy="14">3 (0)</tspan></text></g>
<g id="n73" class="nd"><rect x="2240" y="1201" width="78" height="48"/><text x="2279" y="1222">Edenapel<tspan x="2279" dy="14">1 (0)</tspan></text></g>
<g id="n74" class="nd t"><rect x="2463" y="1201" width="104" height="48"/><text x="2515" y="1222">Zeta Tucanae<tspan x="2515" dy="14">4 (0)</tspan></text></g>
<g id="n75" class="nd"><rect x="2591.5" y="1201" width="91" height="48"/><text x="2637" y="1222">Iman Caber<tspan x="2637" dy="14">4 (0)</tspan></text></g>
<g id="n76" class="nd"><rect x="2742" y="1201" width="72" height="48"/><text x="2778" y="1222">Daiku<tspan x="2778" dy="14">5 (0)</tspan></text></g>
<g id="n77" class="nd"><rect x="2838.5" y="1201" width="95" height="48"/><text x="2886" y="1222">Mombaluma<tspan x="2886" dy="14">5 (0)</tspan></text></g>
<g id="n78" class="nd"><rect x="688" y="1297" width="72" height="48"/><text x="724" y="1318">Surti<tspan x="724" dy="14">11 (0)</tspan></text></g>
<g id="n79" class="nd"><rect x="784" y="1297" width="72" height="48"/><text x="820" y="1318">Tsohave<tspan x="820" dy="14">4 (0)</tspan></text></g>
<g id="n80" class="nd"><rect x="998.5" y="1297" width="87" height="48"/><text x="1042" y="1318">HIP 49767<tspan x="1042" dy="14">14 (0)</tspan></text></g>
<g id="n81" class="nd"><rect x="1109.5" y="1297" width="71" height="48"/><text x="1145" y="1318">Sosong<tspan x="1145" dy="14">2 (0)</tspan></text></g>
<g id="n82" class="nd t"><rect x="1204.5" y="1297" width="75" height="48"/><text x="1242" y="1318">Bunda<tspan x="1242" dy="14">6 (0)</tspan></text></g>
<g id="n83" class="nd"><rect x="1301.5" y="1297" width="77" height="48"/><text x="1340" y="1318">LTT 4428<tspan x="1340" dy="14">3 (0)</tspan></text></g>
<g id="n84" class="nd t"><rect x="592" y="1393" width="74" height="48"/><text x="629" y="1414">Simyr<tspan x="629" dy="14">23 (0)</tspan></text></g>
<g id="n85" class="nd"><rect x="688" y="1393" width="72" height="48"/><text x="724" y="1414">Tharviri<tspan x="724" dy="14">18 (0)</tspan></text></g>
<g id="n86" class="nd t"><rect x="783" y="1393" width="74" height="48"/><text x="820" y="1414">Areklici<tspan x="820" dy="14">4 (0)</tspan></text></g>
<g id="n87" class="nd"><rect x="640" y="1490" width="72" height="48"/><text x="676" y="1511">Prahasi<tspan x="676" dy="14">17 (0)</tspan></text></g>
<g id="n88" class="nd"><rect x="884.5" y="1490" width="85" height="48"/><text x="927" y="1511">Didarengu<tspan x="927" dy="14">7 (0)</tspan></text></g>
<g id="n89" class="nd"><rect x="821.5" y="1585" width="101" height="48"/><text x="872" y="1606">BD+24 1451<tspan x="872" dy="14">7 (0)</tspan></text></g>
<g id="n90" class="nd c t"><rect x="946" y="1585" width="74" height="48"/><text x="983" y="1606">Bero<tspan x="983" dy="14">10 (3)</tspan></text></g>
<g id="n91" class="nd"><rect x="3114" y="242" width="72" height="48"/><text x="3150" y="263">Aisoci<tspan x="3150" dy="14">16 (0)</tspan></text></g>
<g id="n92" class="nd"><rect x="3210" y="242" width="94" height="48"/><text x="3257" y="263">HIP 117499<tspan x="3257" dy="14">16 (0)</tspan></text></g>
<g id="n93" class="nd"><rect x="3330.5" y="242" width="77" height="48"/><text x="3369" y="263">Sarahath<tspan x="3369" dy="14">17 (0)</tspan></text></g>
<g id="n94" class="nd"><rect x="3433" y="242" width="100" height="48"/><text x="3483" y="263">Purungurawn<tspan x="3483" dy="14">10 (0)</tspan></text></g>
<g id="n95" class="nd"><rect x="3559" y="242" width="82" height="48"/><text x="3600" y="263">Korubures<tspan x="3600" dy="14">12 (0)</tspan></text></g>
<g id="n96" class="nd"><rect x="3666" y="242" width="94" height="48"/><text x="3713" y="263">HIP 117014<tspan x="3713" dy="14">12 (0)</tspan></text></g>
<g id="n97" class="nd c t"><rect x="3785.5" y="242" width="73" height="48"/><text x="3822" y="263">Doolona<tspan x="3822" dy="14">50 (1)</tspan></text></g>
<g id="n98" class="nd"><rect x="3882" y="242" width="92" height="48"/><text x="3928" y="263">Dounthiassi<tspan x="3928" dy="14">11 (0)</tspan></text></g>
<g id="n99" class="nd"><rect x="3998" y="242" width="72" height="48"/><text x="4034" y="263">Anhurs<tspan x="4034" dy="14">8 (0)</tspan></text></g>
<g id="n100" class="nd"><rect x="4096" y="242" width="78" height="48"/><text x="4135" y="263">Chnumar<tspan x="4135" dy="14">12 (0)</tspan></text></g>
<g id="n101" class="nd t"><rect x="4198" y="242" width="138" height="48"/><text x="4267" y="263">Lambda-1 Tucanae<tspan x="4267" dy="14">41 (0)</tspan></text></g>
<g id="n102" class="nd t"><rect x="4360.5" y="242" width="73" height="48"/><text x="4397" y="263">Ehlanda<tspan x="4397" dy="14">37 (0)</tspan></text></g>
<g id="n103" class="nd"><rect x="4456" y="242" width="72" height="48"/><text x="4492" y="263">Kou Hua<tspan x="4492" dy="14">11 (0)</tspan></text></g>
<g id="n104" class="nd"><rect x="4553.5" y="242" width="73" height="48"/><text x="4590" y="263">Mu Gong<tspan x="4590" dy="14">8 (0)</tspan></text></g>
<g id="n105" class="nd"><rect x="4653.5" y="242" width="79" height="48"/><text x="4693" y="263">HIP 6703<tspan x="4693" dy="14">13 (0)</tspan></text></g>
<g id="n106" class="nd"><rect x="4756" y="242" width="72" height="48"/><text x="4792" y="263">Iktock<tspan x="4792" dy="14">9 (0)</tspan></text></g>
<g id="n107" class="nd"><rect x="4852" y="242" width="72" height="48"/><text x="4888" y="263">Yaque<tspan x="4888" dy="14">12 (0)</tspan></text></g>
<g id="n108" class="nd"><rect x="4949" y="242" width="78" height="48"/><text x="4988" y="263">HIP 5623<tspan x="4988" dy="14">11 (0)</tspan></text></g>
<g id="n109" class="nd"><rect x="5051.5" y="242" width="77" height="48"/><text x="5090" y="263">Tumuzgo<tspan x="5090" dy="14">13 (0)</tspan></text></g>
<g id="n110" class="nd"><rect x="5154.5" y="242" width="77" height="48"/><text x="5193" y="263">HIP 7142<tspan x="5193" dy="14">15 (0)</tspan></text></g>
<g id="n111" class="nd"><rect x="5257.5" y="242" width="77" height="48"/><text x="5296" y="263">HIP 7869<tspan x="5296" dy="14">11 (0)</tspan></text></g>
<g id="n112" class="nd"><rect x="5360" y="242" width="88" height="48"/><text x="5404" y="263">Hernovacle<tspan x="5404" dy="14">8 (0)</tspan></text></g>
<g id="n113" class="nd t"><rect x="5472.5" y="242" width="137" height="48"/><text x="5541" y="263">Lambda-2 Tucanae<tspan x="5541" dy="14">35 (0)</tspan></text></g>
<g id="n114" class="nd"><rect x="5634" y="242" width="72" height="48"/><text x="5670" y="263">Reddis<tspan x="5670" dy="14">12 (0)</tspan></text></g>
<g id="n115" class="nd t"><rect x="5731" y="242" width="78" height="48"/><text x="5770" y="263">HIP 5700<tspan x="5770" dy="14">32 (0)</tspan></text></g>
<g id="n116" class="nd t"><rect x="5835" y="242" width="80" height="48"/><text x="5875" y="263">Karsuki Ti<tspan x="5875" dy="14">35 (0)</tspan></text></g>
<g id="n117" class="nd t"><rect x="5939.5" y="242" width="75" height="48"/><text x="5977" y="263">Fire Fade<tspan x="5977" dy="14">39 (0)</tspan></text></g>
<g id="n118" class="nd t"><rect x="6038.5" y="242" width="79" height="48"/><text x="6078" y="263">HIP 1914<tspan x="6078" dy="14">32 (0)</tspan></text></g>
<g id="n119" class="nd c t"><rect x="6141" y="242" width="74" height="48"/><text x="6178" y="263">Wababa<tspan x="6178" dy="14">37 (1)</tspan></text></g>
<g id="n120" class="nd"><rect x="6236.5" y="242" width="73" height="48"/><text x="6273" y="263">Kuki An<tspan x="6273" dy="14">8 (0)</tspan></text></g>
<g id="n121" class="nd"><rect x="6334.5" y="242" width="71" height="48"/><text x="6370" y="263">Osane<tspan x="6370" dy="14">12 (0)</tspan></text></g>
<g id="n122" class="nd"><rect x="6429.5" y="242" width="73" height="48"/><text x="6466" y="263">Nariyot<tspan x="6466" dy="14">13 (0)</tspan></text></g>
<g id="n123" class="nd"><rect x="6527" y="242" width="78" height="48"/><text x="6566" y="263">CD-70 19<tspan x="6566" dy="14">8 (0)</tspan></text></g>
<g id="n124" class="nd"><rect x="6630" y="242" width="110" height="48"/><text x="6685" y="263">Theta Octantis<tspan x="6685" dy="14">8 (0)</tspan></text></g>
<g id="n125" class="nd"><rect x="6764" y="242" width="78" height="48"/><text x="6803" y="263">HIP 1937<tspan x="6803" dy="14">8 (0)</tspan></text></g>
<g id="n126" class="nd"><rect x="6868" y="242" width="70" height="48"/><text x="6903" y="263">Primi<tspan x="6903" dy="14">11 (0)</tspan></text></g>
<g id="n127" class="nd"><rect x="3274.5" y="338" width="75" height="48"/><text x="3312" y="359">Namniez<tspan x="3312" dy="14">14 (0)</tspan></text></g>
<g id="n128" class="nd t"><rect x="3706" y="338" width="74" height="48"/><text x="3743" y="359">Maiki<tspan x="3743" dy="14">40 (0)</tspan></text></g>
<g id="n129" class="nd"><rect x="3802.5" y="338" width="75" height="48"/><text x="3840" y="359">Anhualm<tspan x="3840" dy="14">13 (0)</tspan></text></g>
<g id="n130" class="nd"><rect x="3902" y="338" width="72" height="48"/><text x="3938" y="359">Ch'eng<tspan x="3938" dy="14">16 (0)</tspan></text></g>
<g id="n131" class="nd t"><rect x="3998" y="338" width="74" height="48"/><text x="4035" y="359">Di Yomi<tspan x="4035" dy="14">29 (0)</tspan></text></g>
<g id="n132" class="nd t"><rect x="4094.5" y="338" width="77" height="48"/><text x="4133" y="359">Tehuenef<tspan x="4133" dy="14">30 (0)</tspan></text></g>
<g id="n133" class="nd t"><rect x="4194.5" y="338" width="85" height="48"/><text x="4237" y="359">Kapoongzi<tspan x="4237" dy="14">52 (0)</tspan></text></g>
<g id="n134" class="nd t"><rect x="5173.5" y="338" width="93" height="48"/><text x="5220" y="359">Pangilagara<tspan x="5220" dy="14">49 (0)</tspan></text></g>
<g id="n135" class="nd"><rect x="5291" y="338" width="72" height="48"/><text x="5327" y="359">Li Chi<tspan x="5327" dy="14">16 (0)</tspan></text></g>
<g id="n136" class="nd"><rect x="5387" y="338" width="72" height="48"/><text x="5423" y="359">Falendal<tspan x="5423" dy="14">16 (0)</tspan></text></g>
<g id="n137" class="nd t"><rect x="5482" y="338" width="74" height="48"/><text x="5519" y="359">Koyans<tspan x="5519" dy="14">39 (0)</tspan></text></g>
<g id="n138" class="nd"><rect x="5579" y="338" width="80" height="48"/><text x="5619" y="359">Grebegus<tspan x="5619" dy="14">13 (0)</tspan></text></g>
<g id="n139" class="nd"><rect x="5684" y="338" width="86" height="48"/><text x="5727" y="359">HIP 11909<tspan x="5727" dy="14">20 (0)</tspan></text></g>
<g id="n140" class="nd"><rect x="5794" y="338" width="86" height="48"/><text x="5837" y="359">HIP 10786<tspan x="5837" dy="14">15 (0)</tspan></text></g>
<g id="n141" class="nd"><rect x="5906" y="338" width="74" height="48"/><text x="5943" y="359">Aluriates<tspan x="5943" dy="14">17 (0)</tspan></text></g>
<g id="n142" class="nd"><rect x="6005" y="338" width="82" height="48"/><text x="6046" y="359">Caeriango<tspan x="6046" dy="14">13 (0)</tspan></text></g>
<g id="n143" class="nd"><rect x="6111" y="338" width="72" height="48"/><text x="6147" y="359">Ewahu<tspan x="6147" dy="14">3 (0)</tspan></text></g>
<g id="n144" class="nd c t"><rect x="6236" y="338" width="74" height="48"/><text x="6273" y="359">Daibo<tspan x="6273" dy="14">18 (4)</tspan></text></g>
<g id="n145" class="nd c"><rect x="2112" y="434" width="86" height="48"/><text x="2155" y="455">Asvincegin<tspan x="2155" dy="14">13 (2)</tspan></text></g>
<g id="n146" class="nd b t"><rect x="2558" y="434" width="74" height="48"/><text x="2595" y="455">Kauruku<tspan x="2595" dy="14">40 (8)</tspan></text></g>
<g id="n147" class="nd"><rect x="2656.5" y="434" width="77" height="48"/><text x="2695" y="455">L 170-63<tspan x="2695" dy="14">11 (0)</tspan></text></g>
<g id="n148" class="nd"><rect x="2757.5" y="434" width="79" height="48"/><text x="2797" y="455">Lumastya<tspan x="2797" dy="14">12 (0)</tspan></text></g>
<g id="n149" class="nd"><rect x="2862.5" y="434" width="77" height="48"/><text x="2901" y="455">Kwelegus<tspan x="2901" dy="14">11 (0)</tspan></text></g>
<g id="n150" class="nd"><rect x="2965" y="434" width="72" height="48"/><text x="3001" y="455">Bibari<tspan x="3001" dy="14">8 (0)</tspan></text></g>
<g id="n151" class="nd"><rect x="3062" y="434" width="84" height="48"/><text x="3104" y="455">Marrallang<tspan x="3104" dy="14">11 (0)</tspan></text></g>
<g id="n152" class="nd t"><rect x="3171" y="434" width="94" height="48"/><text x="3218" y="455">Maidubrigel<tspan x="3218" dy="14">35 (0)</tspan></text></g>
<g id="n153" class="nd"><rect x="3649" y="434" width="72" height="48"/><text x="3685" y="455">Potres<tspan x="3685" dy="14">11 (0)</tspan></text></g>
<g id="n154" class="nd c t"><rect x="3805" y="434" width="92" height="48"/><text x="3851" y="455">Duryampas<tspan x="3851" dy="14">55 (1)</tspan></text></g>
<g id="n155" class="nd"><rect x="3920" y="434" width="72" height="48"/><text x="3956" y="455">Halbara<tspan x="3956" dy="14">23 (0)</tspan></text></g>
<g id="n156" class="nd"><rect x="4016" y="434" width="72" height="48"/><text x="4052" y="455">Miansis<tspan x="4052" dy="14">17 (0)</tspan></text></g>
<g id="n157" class="nd"><rect x="4112" y="434" width="72" height="48"/><text x="4148" y="455">Corin<tspan x="4148" dy="14">14 (0)</tspan></text></g>
<g id="n158" class="nd"><rect x="4209" y="434" width="102" height="48"/><text x="4260" y="455">Achehoongat<tspan x="4260" dy="14">14 (0)</tspan></text></g>
<g id="n159" class="nd"><rect x="4336" y="434" width="72" height="48"/><text x="4372" y="455">Okundu<tspan x="4372" dy="14">22 (0)</tspan></text></g>
<g id="n160" class="nd"><rect x="4833" y="434" width="90" height="48"/><text x="4878" y="455">Pleutarama<tspan x="4878" dy="14">14 (0)</tspan></text></g>
<g id="n161" class="nd"><rect x="4948" y="434" width="86" height="48"/><text x="4991" y="455">Shanteneri<tspan x="4991" dy="14">14 (0)</tspan></text></g>
<g id="n162" class="nd"><rect x="5067" y="434" width="72" height="48"/><text x="5103" y="455">Untun<tspan x="5103" dy="14">15 (0)</tspan></text></g>
<g id="n163" class="nd t"><rect x="5162" y="434" width="74" height="48"/><text x="5199" y="455">T'u Tu<tspan x="5199" dy="14">57 (0)</tspan></text></g>
<g id="n164" class="nd"><rect x="5260" y="434" width="94" height="48"/><text x="5307" y="455">Bulgarlmadi<tspan x="5307" dy="14">17 (0)</tspan></text></g>
<g id="n165" class="nd"><rect x="5379" y="434" width="82" height="48"/><text x="5420" y="455">Sokariang<tspan x="5420" dy="14">16 (0)</tspan></text></g>
<g id="n166" class="nd t"><rect x="5486.5" y="434" width="77" height="48"/><text x="5525" y="455">LTT 1289<tspan x="5525" dy="14">47 (0)</tspan></text></g>
<g id="n167" class="nd t"><rect x="5586" y="434" width="74" height="48"/><text x="5623" y="455">Chona<tspan x="5623" dy="14">57 (0)</tspan></text></g>
<g id="n168" class="nd"><rect x="5683" y="434" width="72" height="48"/><text x="5719" y="455">Napia<tspan x="5719" dy="14">10 (0)</tspan></text></g>
<g id="n169" class="nd t"><rect x="5778" y="434" width="74" height="48"/><text x="5815" y="455">Yu Zhao<tspan x="5815" dy="14">56 (0)</tspan></text></g>
<g id="n170" class="nd t"><rect x="5876" y="434" width="82" height="48"/><text x="5917" y="455">Guuguyni<tspan x="5917" dy="14">41 (0)</tspan></text></g>
<g id="n171" class="nd t"><rect x="5980" y="434" width="74" height="48"/><text x="6017" y="455">Ceronir<tspan x="6017" dy="14">50 (0)</tspan></text></g>
<g id="n172" class="nd c t"><rect x="6077" y="434" width="78" height="48"/><text x="6116" y="455">Aurawala<tspan x="6116" dy="14">50 (3)</tspan></text></g>
<g id="n173" class="nd"><rect x="6180" y="434" width="86" height="48"/><text x="6223" y="455">CN Hydrus<tspan x="6223" dy="14">18 (0)</tspan></text></g>
<g id="n174" class="nd"><rect x="6291" y="434" width="72" height="48"/><text x="6327" y="455">Clido Pi<tspan x="6327" dy="14">16 (0)</tspan></text></g>
<g id="n175" class="nd c"><rect x="6387" y="434" width="82" height="48"/><text x="6428" y="455">Kurichime<tspan x="6428" dy="14">14 (1)</tspan></text></g>
<g id="n176" class="nd c"><rect x="6494" y="434" width="72" height="48"/><text x="6530" y="455">Jokudiri<tspan x="6530" dy="14">12 (1)</tspan></text></g>
<g id="n177" class="nd b"><rect x="1650" y="529" width="72" height="48"/><text x="1686" y="550">Pardis<tspan x="1686" dy="14">22 (9)</tspan></text></g>
<g id="n178" class="nd t"><rect x="1745.5" y="529" width="73" height="48"/><text x="1782" y="550">Ekono<tspan x="1782" dy="14">44 (0)</tspan></text></g>
<g id="n179" class="nd t"><rect x="1985" y="529" width="74" height="48"/><text x="2022" y="550">Nunus<tspan x="2022" dy="14">25 (0)</tspan></text></g>
<g id="n180" class="nd"><rect x="2082" y="529" width="94" height="48"/><text x="2129" y="550">Qi Yun Cech<tspan x="2129" dy="14">11 (0)</tspan></text></g>
<g id="n181" class="nd"><rect x="2201" y="529" width="72" height="48"/><text x="2237" y="550">Larg<tspan x="2237" dy="14">5 (0)</tspan></text></g>
<g id="n182" class="nd b"><rect x="2469" y="529" width="72" height="48"/><text x="2505" y="550">Conii<tspan x="2505" dy="14">22 (6)</tspan></text></g>
<g id="n183" class="nd t"><rect x="2565" y="529" width="74" height="48"/><text x="2602" y="550">Kisa<tspan x="2602" dy="14">20 (0)</tspan></text></g>
<g id="n184" class="nd"><rect x="2671" y="529" width="80" height="48"/><text x="2711" y="550">Wheemez<tspan x="2711" dy="14">13 (0)</tspan></text></g>
<g id="n185" class="nd"><rect x="2776" y="529" width="72" height="48"/><text x="2812" y="550">Niflhel<tspan x="2812" dy="14">14 (0)</tspan></text></g>
<g id="n186" class="nd"><rect x="2872.5" y="529" width="79" height="48"/><text x="2912" y="550">Rosmerta<tspan x="2912" dy="14">8 (0)</tspan></text></g>
<g id="n187" class="nd"><rect x="2976" y="529" width="72" height="48"/><text x="3012" y="550">Urvane<tspan x="3012" dy="14">6 (0)</tspan></text></g>
<g id="n188" class="nd"><rect x="3072" y="529" width="72" height="48"/><text x="3108" y="550">Agartha<tspan x="3108" dy="14">12 (0)</tspan></text></g>
<g id="n189" class="nd"><rect x="3169" y="529" width="72" height="48"/><text x="3205" y="550">Ipilyaqa<tspan x="3205" dy="14">18 (0)</tspan></text></g>
<g id="n190" class="nd"><rect x="3264" y="529" width="72" height="48"/><text x="3300" y="550">Futhark<tspan x="3300" dy="14">18 (0)</tspan></text></g>
<g id="n191" class="nd"><rect x="3361" y="529" width="72" height="48"/><text x="3397" y="550">Atlantis<tspan x="3397" dy="14">16 (0)</tspan></text></g>
<g id="n192" class="nd t"><rect x="3570" y="529" width="106" height="48"/><text x="3623" y="550">Shapsugabus<tspan x="3623" dy="14">42 (0)</tspan></text></g>
<g id="n193" class="nd t"><rect x="3913.5" y="529" width="95" height="48"/><text x="3961" y="550">HIP 107010<tspan x="3961" dy="14">65 (0)</tspan></text></g>
<g id="n194" class="nd t"><rect x="4030.5" y="529" width="81" height="48"/><text x="4071" y="550">Kamocan<tspan x="4071" dy="14">51 (0)</tspan></text></g>
<g id="n195" class="nd"><rect x="4135" y="529" width="72" height="48"/><text x="4171" y="550">Waq<tspan x="4171" dy="14">18 (0)</tspan></text></g>
<g id="n196" class="nd"><rect x="4231" y="529" width="74" height="48"/><text x="4268" y="550">Hotototo<tspan x="4268" dy="14">17 (0)</tspan></text></g>
<g id="n197" class="nd c t"><rect x="4329" y="529" width="74" height="48"/><text x="4366" y="550">Duro<tspan x="4366" dy="14">27 (3)</tspan></text></g>
<g id="n198" class="nd t"><rect x="4425" y="529" width="74" height="48"/><text x="4462" y="550">Marki<tspan x="4462" dy="14">32 (0)</tspan></text></g>
<g id="n199" class="nd"><rect x="4522" y="529" width="96" height="48"/><text x="4570" y="550">Sigma Hydri<tspan x="4570" dy="14">16 (0)</tspan></text></g>
<g id="n200" class="nd"><rect x="4641" y="529" width="72" height="48"/><text x="4677" y="550">Orang<tspan x="4677" dy="14">18 (0)</tspan></text></g>
<g id="n201" class="nd t"><rect x="4737" y="529" width="74" height="48"/><text x="4774" y="550">Maityan<tspan x="4774" dy="14">45 (0)</tspan></text></g>
<g id="n202" class="nd"><rect x="4834.5" y="529" width="85" height="48"/><text x="4877" y="550">CD-79 950<tspan x="4877" dy="14">24 (0)</tspan></text></g>
<g id="n203" class="nd t"><rect x="4945" y="529" width="74" height="48"/><text x="4982" y="550">Munshin<tspan x="4982" dy="14">30 (0)</tspan></text></g>
<g id="n204" class="nd"><rect x="5043" y="529" width="72" height="48"/><text x="5079" y="550">Yoru<tspan x="5079" dy="14">25 (0)</tspan></text></g>
<g id="n205" class="nd"><rect x="5140" y="529" width="102" height="48"/><text x="5191" y="550">Beta Octantis<tspan x="5191" dy="14">25 (0)</tspan></text></g>
<g id="n206" class="nd"><rect x="5265" y="529" width="72" height="48"/><text x="5301" y="550">Hollos<tspan x="5301" dy="14">29 (0)</tspan></text></g>
<g id="n207" class="nd"><rect x="5363.5" y="529" width="87" height="48"/><text x="5407" y="550">HIP 21455<tspan x="5407" dy="14">18 (0)</tspan></text></g>
<g id="n208" class="nd"><rect x="5474" y="529" width="72" height="48"/><text x="5510" y="550">Apisulfr<tspan x="5510" dy="14">23 (0)</tspan></text></g>
<g id="n209" class="nd t"><rect x="5571" y="529" width="76" height="48"/><text x="5609" y="550">He Xingo<tspan x="5609" dy="14">69 (0)</tspan></text></g>
<g id="n210" class="nd"><rect x="5672" y="529" width="86" height="48"/><text x="5715" y="550">Anayicates<tspan x="5715" dy="14">9 (0)</tspan></text></g>
<g id="n211" class="nd"><rect x="5782" y="529" width="84" height="48"/><text x="5824" y="550">Cosissi Hua<tspan x="5824" dy="14">18 (0)</tspan></text></g>
<g id="n212" class="nd"><rect x="5890.5" y="529" width="83" height="48"/><text x="5932" y="550">Ambiliates<tspan x="5932" dy="14">22 (0)</tspan></text></g>
<g id="n213" class="nd"><rect x="6000" y="529" width="72" height="48"/><text x="6036" y="550">Caledo<tspan x="6036" dy="14">23 (0)</tspan></text></g>
<g id="n214" class="nd"><rect x="6095" y="529" width="72" height="48"/><text x="6131" y="550">Igores<tspan x="6131" dy="14">21 (0)</tspan></text></g>
<g id="n215" class="nd t"><rect x="6191.5" y="529" width="87" height="48"/><text x="6235" y="550">HIP 23824<tspan x="6235" dy="14">40 (0)</tspan></text></g>
<g id="n216" class="nd"><rect x="6303" y="529" width="78" height="48"/><text x="6342" y="550">Okua'gsa<tspan x="6342" dy="14">7 (0)</tspan></text></g>
<g id="n217" class="nd"><rect x="6405" y="529" width="72" height="48"/><text x="6441" y="550">Bharaba<tspan x="6441" dy="14">9 (0)</tspan></text></g>
<g id="n218" class="nd"><rect x="6501" y="529" width="72" height="48"/><text x="6537" y="550">Carns<tspan x="6537" dy="14">14 (0)</tspan></text></g>
<g id="n219" class="nd"><rect x="6597" y="529" width="86" height="48"/><text x="6640" y="550">HIP 77470<tspan x="6640" dy="14">6 (0)</tspan></text></g>
<g id="n220" class="nd"><rect x="1249" y="625" width="72" height="48"/><text x="1285" y="646">Abuk<tspan x="1285" dy="14">18 (0)</tspan></text></g>
<g id="n221" class="nd t"><rect x="1345" y="625" width="82" height="48"/><text x="1386" y="646">Syntheng<tspan x="1386" dy="14">20 (0)</tspan></text></g>
<g id="n222" class="nd"><rect x="1451" y="625" width="90" height="48"/><text x="1496" y="646">Arimavante<tspan x="1496" dy="14">13 (0)</tspan></text></g>
<g id="n223" class="nd"><rect x="1565" y="625" width="90" height="48"/><text x="1610" y="646">Snotock Ek<tspan x="1610" dy="14">13 (0)</tspan></text></g>
<g id="n224" class="nd"><rect x="1681" y="625" width="94" height="48"/><text x="1728" y="646">HIP 109203<tspan x="1728" dy="14">21 (0)</tspan></text></g>
<g id="n225" class="nd"><rect x="1800" y="625" width="72" height="48"/><text x="1836" y="646">Kanuket<tspan x="1836" dy="14">12 (0)</tspan></text></g>
<g id="n226" class="nd t"><rect x="1897" y="625" width="106" height="48"/><text x="1950" y="646">Rho Phoenicis<tspan x="1950" dy="14">22 (0)</tspan></text></g>
<g id="n227" class="nd"><rect x="2024.5" y="625" width="75" height="48"/><text x="2062" y="646">Khonesti<tspan x="2062" dy="14">4 (0)</tspan></text></g>
<g id="n228" class="nd"><rect x="2124" y="625" width="72" height="48"/><text x="2160" y="646">Dagao<tspan x="2160" dy="14">4 (0)</tspan></text></g>
<g id="n229" class="nd c t"><rect x="2220" y="625" width="78" height="48"/><text x="2259" y="646">Yen Hsini<tspan x="2259" dy="14">30 (1)</tspan></text></g>
<g id="n230" class="nd"><rect x="2322" y="625" width="72" height="48"/><text x="2358" y="646">Tepitara<tspan x="2358" dy="14">11 (0)</tspan></text></g>
<g id="n231" class="nd"><rect x="2418" y="625" width="86" height="48"/><text x="2461" y="646">Cernunnos<tspan x="2461" dy="14">5 (0)</tspan></text></g>
<g id="n232" class="nd t"><rect x="2529" y="625" width="74" height="48"/><text x="2566" y="646">Runo<tspan x="2566" dy="14">12 (0)</tspan></text></g>
<g id="n233" class="nd t"><rect x="2625" y="625" width="74" height="48"/><text x="2662" y="646">Miquit<tspan x="2662" dy="14">12 (0)</tspan></text></g>
<g id="n234" class="nd"><rect x="2722" y="625" width="72" height="48"/><text x="2758" y="646">Khampti<tspan x="2758" dy="14">7 (0)</tspan></text></g>
<g id="n235" class="nd"><rect x="2820" y="625" width="72" height="48"/><text x="2856" y="646">Wapiya<tspan x="2856" dy="14">2 (0)</tspan></text></g>
<g id="n236" class="nd t"><rect x="2916" y="625" width="116" height="48"/><text x="2974" y="646">Beta-1 Tucanae<tspan x="2974" dy="14">26 (0)</tspan></text></g>
<g id="n237" class="nd"><rect x="3055" y="625" width="78" height="48"/><text x="3094" y="646">Cegreeth<tspan x="3094" dy="14">16 (0)</tspan></text></g>
<g id="n238" class="nd t"><rect x="3157" y="625" width="96" height="48"/><text x="3205" y="646">CD-67 2611<tspan x="3205" dy="14">55 (0)</tspan></text></g>
<g id="n239" class="nd t"><rect x="3275" y="625" width="86" height="48"/><text x="3318" y="646">Jotunheim<tspan x="3318" dy="14">43 (0)</tspan></text></g>
<g id="n240" class="nd"><rect x="3384" y="625" width="72" height="48"/><text x="3420" y="646">Fotla<tspan x="3420" dy="14">7 (0)</tspan></text></g>
<g id="n241" class="nd"><rect x="3480.5" y="625" width="75" height="48"/><text x="3518" y="646">Aakushu<tspan x="3518" dy="14">21 (0)</tspan></text></g>
<g id="n242" class="nd"><rect x="3580.5" y="625" width="75" height="48"/><text x="3618" y="646">Menguru<tspan x="3618" dy="14">20 (0)</tspan></text></g>
<g id="n243" class="nd"><rect x="3679.5" y="625" width="107" height="48"/><text x="3733" y="646">Mu-2 Octantis<tspan x="3733" dy="14">12 (0)</tspan></text></g>
<g id="n244" class="nd t"><rect x="3811.5" y="625" width="87" height="48"/><text x="3855" y="646">HIP 97196<tspan x="3855" dy="14">39 (0)</tspan></text></g>
<g id="n245" class="nd"><rect x="3924" y="625" width="76" height="48"/><text x="3962" y="646">Punavatii<tspan x="3962" dy="14">20 (0)</tspan></text></g>
<g id="n246" class="nd"><rect x="4025" y="625" width="76" height="48"/><text x="4063" y="646">LTT 8856<tspan x="4063" dy="14">16 (0)</tspan></text></g>
<g id="n247" class="nd t"><rect x="4126" y="625" width="72" height="48"/><text x="4162" y="646">Agarla<tspan x="4162" dy="14">42 (0)</tspan></text></g>
<g id="n248" class="nd"><rect x="4222" y="625" width="72" height="48"/><text x="4258" y="646">Amuza<tspan x="4258" dy="14">18 (0)</tspan></text></g>
<g id="n249" class="nd"><rect x="4318" y="625" width="76" height="48"/><text x="4356" y="646">LTT 9810<tspan x="4356" dy="14">14 (0)</tspan></text></g>
<g id="n250" class="nd"><rect x="4419" y="625" width="76" height="48"/><text x="4457" y="646">Indrachit<tspan x="4457" dy="14">21 (0)</tspan></text></g>
<g id="n251" class="nd c"><rect x="4520" y="625" width="72" height="48"/><text x="4556" y="646">Caneph<tspan x="4556" dy="14">15 (3)</tspan></text></g>
<g id="n252" class="nd"><rect x="4618" y="625" width="94" height="48"/><text x="4665" y="646">HIP 100063<tspan x="4665" dy="14">9 (0)</tspan></text></g>
<g id="n253" class="nd"><rect x="4737" y="625" width="72" height="48"/><text x="4773" y="646">Clayahu<tspan x="4773" dy="14">1 (0)</tspan></text></g>
<g id="n254" class="nd"><rect x="4833" y="625" width="72" height="48"/><text x="4869" y="646">Calea<tspan x="4869" dy="14">7 (0)</tspan></text></g>
<g id="n255" class="nd"><rect x="4929" y="625" width="102" height="48"/><text x="4980" y="646">Mehuenomici<tspan x="4980" dy="14">19 (0)</tspan></text></g>
<g id="n256" class="nd"><rect x="5055" y="625" width="72" height="48"/><text x="5091" y="646">Rangtei<tspan x="5091" dy="14">17 (0)</tspan></text></g>
<g id="n257" class="nd t"><rect x="5151" y="625" width="74" height="48"/><text x="5188" y="646">CD-86 4<tspan x="5188" dy="14">31 (0)</tspan></text></g>
<g id="n258" class="nd t"><rect x="5318" y="625" width="74" height="48"/><text x="5355" y="646">Cari<tspan x="5355" dy="14">78 (0)</tspan></text></g>
<g id="n259" class="nd t"><rect x="5474" y="625" width="74" height="48"/><text x="5511" y="646">Apurui<tspan x="5511" dy="14">66 (0)</tspan></text></g>
<g id="n260" class="nd t"><rect x="5880" y="625" width="74" height="48"/><text x="5917" y="646">Usdia<tspan x="5917" dy="14">32 (0)</tspan></text></g>
<g id="n261" class="nd t"><rect x="5976" y="625" width="74" height="48"/><text x="6013" y="646">Kaukhe<tspan x="6013" dy="14">37 (0)</tspan></text></g>
<g id="n262" class="nd"><rect x="6072.5" y="625" width="91" height="48"/><text x="6118" y="646">Maljangapa<tspan x="6118" dy="14">7 (0)</tspan></text></g>
<g id="n263" class="nd"><rect x="6187" y="625" width="96" height="48"/><text x="6235" y="646">Hernkondha<tspan x="6235" dy="14">9 (0)</tspan></text></g>
<g id="n264" class="nd"><rect x="6307" y="625" width="72" height="48"/><text x="6343" y="646">Epoma<tspan x="6343" dy="14">7 (0)</tspan></text></g>
<g id="n265" class="nd c t"><rect x="1291.5" y="722" width="97" height="48"/><text x="1340" y="743">HIP 116045<tspan x="1340" dy="14">31 (2)</tspan></text></g>
<g id="n266" class="nd"><rect x="1412" y="722" width="94" height="48"/><text x="1459" y="743">HIP 100934<tspan x="1459" dy="14">13 (0)</tspan></text></g>
<g id="n267" class="nd t"><rect x="1529.5" y="722" width="75" height="48"/><text x="1567" y="743">Cailli<tspan x="1567" dy="14">28 (0)</tspan></text></g>
<g id="n268" class="nd t"><rect x="1626.5" y="722" width="97" height="48"/><text x="1675" y="743">HIP 108701<tspan x="1675" dy="14">21 (0)</tspan></text></g>
<g id="n269" class="nd b t"><rect x="2321" y="722" width="74" height="48"/><text x="2358" y="743">Bellaung<tspan x="2358" dy="14">26 (7)</tspan></text></g>
<g id="n270" class="nd t"><rect x="3696" y="722" width="74" height="48"/><text x="3733" y="743">Tsohoda<tspan x="3733" dy="14">21 (0)</tspan></text></g>
<g id="n271" class="nd"><rect x="5370" y="722" width="74" height="48"/><text x="5407" y="743">Itelmens<tspan x="5407" dy="14">23 (0)</tspan></text></g>
<g id="n272" class="nd"><rect x="5629" y="722" width="72" height="48"/><text x="5665" y="743">Kutnigin<tspan x="5665" dy="14">26 (0)</tspan></text></g>
<g id="n273" class="nd"><rect x="5778" y="722" width="72" height="48"/><text x="5814" y="743">Arowica<tspan x="5814" dy="14">20 (0)</tspan></text></g>
<g id="n274" class="nd"><rect x="5874" y="722" width="74" height="48"/><text x="5911" y="743">Hirpasuk<tspan x="5911" dy="14">16 (0)</tspan></text></g>
<g id="n275" class="nd"><rect x="5973.5" y="722" width="85" height="48"/><text x="6016" y="743">HIP 46046<tspan x="6016" dy="14">6 (0)</tspan></text></g>
<g id="n276" class="nd"><rect x="6085" y="722" width="82" height="48"/><text x="6126" y="743">Wababaye<tspan x="6126" dy="14">4 (0)</tspan></text></g>
<g id="n277" class="nd"><rect x="6193" y="722" width="72" height="48"/><text x="6229" y="743">Dhang<tspan x="6229" dy="14">9 (0)</tspan></text></g>
<g id="n278" class="nd"><rect x="6289" y="722" width="86" height="48"/><text x="6332" y="743">Wei Chang<tspan x="6332" dy="14">8 (0)</tspan></text></g>
<g id="n279" class="nd"><rect x="6400" y="722" width="72" height="48"/><text x="6436" y="743">Saka<tspan x="6436" dy="14">6 (0)</tspan></text></g>
<g id="n280" class="nd"><rect x="2322" y="817" width="72" height="48"/><text x="2358" y="838">Nerrete<tspan x="2358" dy="14">14 (0)</tspan></text></g>
<g id="n281" class="nd b t"><rect x="5624.5" y="817" width="81" height="48"/><text x="5665" y="838">Yan Musu<tspan x="5665" dy="14">33 (5)</tspan></text></g>
<g id="n282" class="nd"><rect x="6083" y="817" width="86" height="48"/><text x="6126" y="838">Airsetanoa<tspan x="6126" dy="14">0 (0)</tspan></text></g>
<g id="n283" class="nd"><rect x="6400" y="817" width="72" height="48"/><text x="6436" y="838">Mu Koji<tspan x="6436" dy="14">17 (0)</tspan></text></g>
<g id="n284" class="nd"><rect x="5629" y="914" width="72" height="48"/><text x="5665" y="935">Jaaka<tspan x="5665" dy="14">13 (0)</tspan></text></g>
<g id="n285" class="nd"><rect x="6077" y="914" width="98" height="48"/><text x="6126" y="935">Beta Volantis<tspan x="6126" dy="14">0 (0)</tspan></text></g>
<g id="n286" class="nd"><rect x="6297" y="914" width="74" height="48"/><text x="6334" y="935">Miroman<tspan x="6334" dy="14">17 (0)</tspan></text></g>
<g id="n287" class="nd t"><rect x="6393.5" y="914" width="85" height="48"/><text x="6436" y="935">Chontaiko<tspan x="6436" dy="14">39 (0)</tspan></text></g>
<g id="n288" class="nd t"><rect x="6500.5" y="914" width="77" height="48"/><text x="6539" y="935">HR 4720<tspan x="6539" dy="14">25 (0)</tspan></text></g>
<g id="n289" class="nd p t"><rect x="6297" y="1010" width="74" height="48"/><text x="6334" y="1031">Reieni<tspan x="6334" dy="14">30 (12)</tspan></text></g>
<g id="n290" class="nd"><rect x="6400" y="1010" width="72" height="48"/><text x="6436" y="1031">Novas<tspan x="6436" dy="14">19 (0)</tspan></text></g>
<g id="n291" class="nd"><rect x="6496" y="1010" width="72" height="48"/><text x="6532" y="1031">Shakal<tspan x="6532" dy="14">13 (0)</tspan></text></g>
<g id="n292" class="nd c t"><rect x="6592" y="1010" width="74" height="48"/><text x="6629" y="1031">Orgen<tspan x="6629" dy="14">7 (1)</tspan></text></g>
<g id="n293" class="nd"><rect x="6688" y="1010" width="72" height="48"/><text x="6724" y="1031">Toxandji<tspan x="6724" dy="14">9 (0)</tspan></text></g>
<g id="n294" class="nd t"><rect x="6394.5" y="1106" width="83" height="48"/><text x="6436" y="1127">Kherthaje<tspan x="6436" dy="14">33 (0)</tspan></text></g>
<g id="n295" class="nd t"><rect x="6500" y="1106" width="74" height="48"/><text x="6537" y="1127">Runapa<tspan x="6537" dy="14">23 (0)</tspan></text></g>
<g id="n296" class="nd"><rect x="6400" y="1201" width="72" height="48"/><text x="6436" y="1222">Bidiono<tspan x="6436" dy="14">16 (0)</tspan></text></g>
</g>
</svg>
